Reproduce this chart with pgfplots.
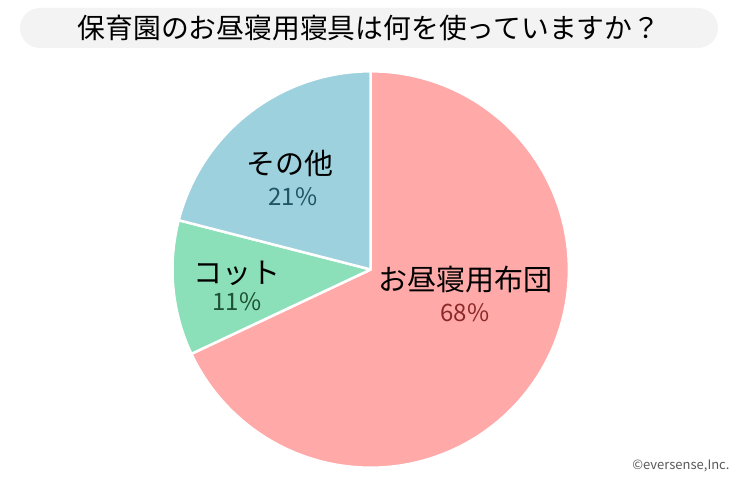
\documentclass[border=0pt]{standalone}
\usepackage{fontspec}
\setmainfont{Noto Sans CJK JP}
\usepackage{pgfplots}
\pgfplotsset{compat=1.18}
\usepackage{pgfplotstable}
\definecolor{pinkc}{RGB}{255,169,169}
\definecolor{greenc}{RGB}{139,223,185}
\definecolor{bluec}{RGB}{158,209,222}
\definecolor{pinkt}{RGB}{140,40,40}
\definecolor{greent}{RGB}{30,82,52}
\definecolor{bluet}{RGB}{30,84,100}
\definecolor{boxc}{RGB}{243,243,243}
% slice values (percent), clockwise from 12 o'clock
\pgfplotstableread{
label value
futon 68
cot 11
other 21
}\piedata
\pgfplotstablegetelem{0}{value}\of\piedata \let\vA\pgfplotsretval
\pgfplotstablegetelem{1}{value}\of\piedata \let\vB\pgfplotsretval
\pgfplotstablegetelem{2}{value}\of\piedata \let\vC\pgfplotsretval
\pgfmathsetmacro{\aA}{90}
\pgfmathsetmacro{\aB}{\aA-3.6*\vA}
\pgfmathsetmacro{\aC}{\aB-3.6*\vB}
\pgfmathsetmacro{\aD}{\aC-3.6*\vC}
\def\cx{370.7}
\def\cy{210.5}
\def\rr{198.2}
\begin{document}
\begin{tikzpicture}
\path[use as bounding box] (0,0) rectangle (740bp,480bp);
\begin{axis}[
  at={(0,0)}, anchor=south west,
  width=740bp, height=480bp, scale only axis,
  xmin=0, xmax=740, ymin=0, ymax=480,
  hide axis, clip=false,
]
\fill[boxc, rounded corners=20bp] (20,432) rectangle (718,472);
\node[font=\fontsize{27.8bp}{30bp}\selectfont] at (369,452) {保育園のお昼寝用寝具は何を使っていますか？};

\addplot[fill=pinkc, draw=white, line width=2.5bp, line join=round, domain=\aB:\aA, samples=150, variable=\t]
  ({\cx+\rr*cos(t)},{\cy+\rr*sin(t)}) -- (\cx,\cy) -- cycle;
\addplot[fill=greenc, draw=white, line width=2.5bp, line join=round, domain=\aC:\aB, samples=40, variable=\t]
  ({\cx+\rr*cos(t)},{\cy+\rr*sin(t)}) -- (\cx,\cy) -- cycle;
\addplot[fill=bluec, draw=white, line width=2.5bp, line join=round, domain=\aD:\aC, samples=60, variable=\t]
  ({\cx+\rr*cos(t)},{\cy+\rr*sin(t)}) -- (\cx,\cy) -- cycle;

\node[font=\fontsize{29bp}{32bp}\selectfont] at (465.5,200) {お昼寝用布団};
\node[font=\fontsize{24bp}{28bp}\selectfont, text=pinkt] at (465,167) {\vA\%};
\node[font=\fontsize{29bp}{32bp}\selectfont] at (290,317) {その他};
\node[font=\fontsize{24bp}{28bp}\selectfont, text=bluet] at (293,283) {\vC\%};
\node[font=\fontsize{29bp}{32bp}\selectfont] at (237,207) {コット};
\node[font=\fontsize{24bp}{28bp}\selectfont, text=greent] at (237,178) {\vB\%};

\node[font=\fontsize{13bp}{15bp}\selectfont, text=black!65, anchor=east] at (733,14) {©eversense,Inc.};
\end{axis}
\end{tikzpicture}
\end{document}
